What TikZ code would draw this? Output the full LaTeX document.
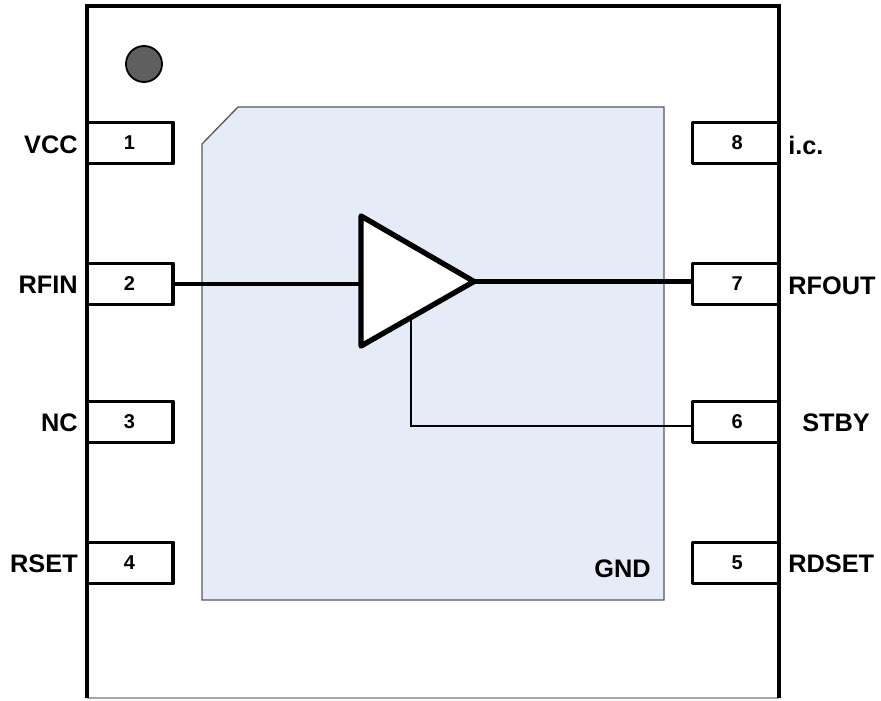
\documentclass[tikz,border=0pt]{standalone}
\usepackage{fontspec}
\setmainfont{Liberation Sans}
\definecolor{paddle}{HTML}{E6ECF7}
\definecolor{paddleedge}{HTML}{595959}
\definecolor{dot}{HTML}{5F5F5F}
\newcommand{\pinL}[1]{\raisebox{-1.5pt}{\kern-0.8pt #1}}
\newcommand{\pinR}[1]{\raisebox{-1.5pt}{\kern2.6pt #1}}
\tikzset{
  x=0.75pt,y=-0.75pt,
  pinbox/.style={draw=black,line width=2.6pt,fill=white,minimum width=64.5pt,minimum height=31pt,inner sep=0pt,outer sep=0pt,font=\fontsize{15}{17}\bfseries,line join=round},
  pinlabel/.style={font=\fontsize{19}{20}\bfseries,inner sep=0pt,text=black},
  thick wire/.style={line width=3.6pt},
  thin wire/.style={line width=1.5pt,line join=miter},
}
\begin{document}
\begin{tikzpicture}
\useasboundingbox (0,0) rectangle (881,700);
\fill[white] (0,0) rectangle (881,700);
% package outline
\coordinate (bl) at (87,698);
\coordinate (tl) at (87,6);
\coordinate (tr) at (779,6);
\coordinate (br) at (779,698);
\draw[black!35,line width=1pt] (bl) -- (br);
\draw[line width=3pt,line join=miter] (bl) -- (tl) -- (tr) -- (br);
% pin-1 marker
\node[circle,draw=black,line width=1.4pt,fill=dot,minimum size=27pt,inner sep=0pt] (mark) at (144,64) {};
% exposed pad
\draw[draw=paddleedge,fill=paddle,line width=1pt] (238,107) -- (664,107) -- (664,600) -- (202,600) -- (202,144) -- cycle;
\node[font=\fontsize{19}{20}\bfseries,inner sep=0pt,text=black] (gnd) at (622.5,569) {GND};
% pins
\node[pinbox] (p1) at (130,143) {\pinL{1}};
\node[pinbox] (p2) at (130,284) {\pinL{2}};
\node[pinbox] (p3) at (130,422) {\pinL{3}};
\node[pinbox] (p4) at (130,563) {\pinL{4}};
\node[pinbox] (p8) at (735.5,143) {\pinR{8}};
\node[pinbox] (p7) at (735.5,284) {\pinR{7}};
\node[pinbox] (p6) at (735.5,422) {\pinR{6}};
\node[pinbox] (p5) at (735.5,563) {\pinR{5}};
% labels
\node[pinlabel,anchor=east] (l1) at (78,145) {VCC};
\node[pinlabel,anchor=east] (l2) at (78,285) {RFIN};
\node[pinlabel,anchor=east] (l3) at (78,423) {NC};
\node[pinlabel,anchor=east] (l4) at (78,564) {RSET};
\node[pinlabel,anchor=west] (l8) at (788,145) {i.c.};
\node[pinlabel,anchor=west] (l7) at (788,286) {RFOUT};
\node[pinlabel,anchor=west] (l6) at (802,423) {STBY};
\node[pinlabel,anchor=west] (l5) at (788,564) {RDSET};
% amplifier
\coordinate (atop) at (361,216);
\coordinate (abot) at (361,346);
\coordinate (atip) at (474,281.5);
\coordinate (ain) at (361,284);
\coordinate (actl) at (411,318);
\coordinate (sby) at (p6.west |- 0,426);
\draw[thin wire] (actl) |- (sby);
\draw[thick wire] (p2.east) -- (ain);
\draw[thick wire] (atip) -- (atip -| p7.west);
\draw[line width=4pt,fill=white,line join=round] (atop) -- (atip) -- (abot) -- cycle;
\end{tikzpicture}
\end{document}
